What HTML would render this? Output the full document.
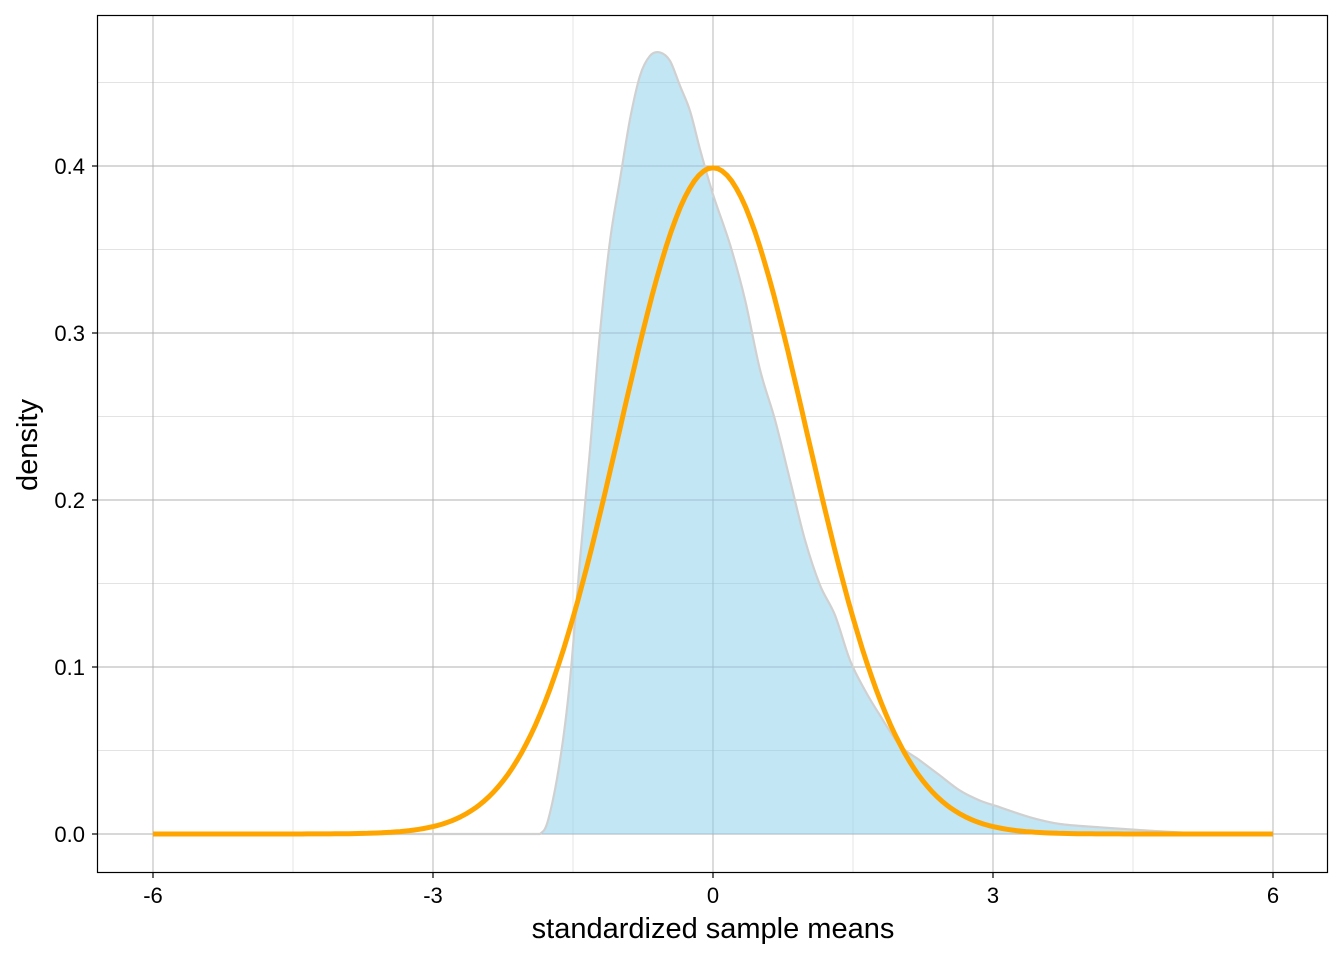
<!DOCTYPE html>
<html><head><meta charset="utf-8"><style>
html,body{margin:0;padding:0;background:#fff;}
svg{display:block;font-family:"Liberation Sans",sans-serif;}
</style></head><body>
<svg id="chart" width="1344" height="960">
<rect x="0" y="0" width="1344" height="960" fill="#fff"/>
<g id="grid"></g>
<g id="marks"></g>
<rect x="97.5" y="15.5" width="1230" height="857" fill="none" stroke="#000" stroke-width="1.2"/>
<g id="axes"></g>
<text x="713" y="938" font-size="29" text-anchor="middle">standardized sample means</text>
<text x="37" y="445" font-size="29" text-anchor="middle" transform="rotate(-90 37 445)">density</text>
</svg>
<script>
const xTicks = [-6, -3, 0, 3, 6];
const xMinor = [-4.5, -1.5, 1.5, 4.5];
const yTicks = [0, 0.1, 0.2, 0.3, 0.4];
const yMinor = [0.05, 0.15, 0.25, 0.35, 0.45];
const yTickLabels = ["0.0", "0.1", "0.2", "0.3", "0.4"];
const densX = [-6, -5, -4, -3, -2.4, -2.05, -1.9, -1.854, -1.768, -1.639, -1.532, -1.425, -1.318, -1.211, -1.104, -0.996, -0.889, -0.782, -0.675, -0.568, -0.461, -0.354, -0.246, -0.139, 0, 0.182, 0.343, 0.504, 0.664, 0.825, 0.986, 1.146, 1.307, 1.468, 1.629, 1.789, 2.004, 2.218, 2.432, 2.646, 2.861, 3.075, 3.396, 3.718, 4.146, 4.682, 5.218, 6];
const densY = [0, 0, 0, 0, 0, 0, 0, 0, 0.008, 0.044, 0.092, 0.164, 0.23, 0.30, 0.355, 0.392, 0.428, 0.454, 0.466, 0.468, 0.463, 0.448, 0.433, 0.41, 0.383, 0.353, 0.32, 0.278, 0.248, 0.212, 0.176, 0.149, 0.131, 0.104, 0.086, 0.071, 0.053, 0.044, 0.035, 0.026, 0.020, 0.016, 0.010, 0.006, 0.004, 0.002, 0.0005, 0];
const normMean = [0];
const normSd = [1];

const NS = "http://www.w3.org/2000/svg";
const sx = v => 713 + v * (1120 / 12);
const sy = v => 834 - v * 1670;
function mk(tag, attrs, parent) {
  const e = document.createElementNS(NS, tag);
  for (const k in attrs) e.setAttribute(k, attrs[k]);
  parent.appendChild(e);
  return e;
}
const grid = document.getElementById('grid');
const marks = document.getElementById('marks');
const axes = document.getElementById('axes');

xMinor.forEach(v => {
  const l = mk('line', {x1: sx(v), x2: sx(v), y1: 16, y2: 872, stroke: '#dadada', 'stroke-width': 0.7}, grid);
  
  
});
yMinor.forEach(v => {
  const l = mk('line', {x1: 98, x2: 1328, y1: sy(v), y2: sy(v), stroke: '#dadada', 'stroke-width': 0.7}, grid);
  
  
});
xTicks.forEach(v => {
  const l = mk('line', {x1: sx(v), x2: sx(v), y1: 16, y2: 872, stroke: '#b0b0b0', 'stroke-width': 0.9}, grid);
  
  
  const t = mk('line', {x1: sx(v), x2: sx(v), y1: 872, y2: 878, stroke: '#000', 'stroke-width': 1.2}, axes);
  
  
  const tx = mk('text', {x: sx(v), y: 903, 'font-size': 22, 'text-anchor': 'middle'}, axes);
  tx.textContent = String(v);
  
  
});
yTicks.forEach((v, i) => {
  const l = mk('line', {x1: 98, x2: 1328, y1: sy(v), y2: sy(v), stroke: '#b0b0b0', 'stroke-width': 0.9}, grid);
  
  
  const t = mk('line', {x1: 92, x2: 98, y1: sy(v), y2: sy(v), stroke: '#000', 'stroke-width': 1.2}, axes);
  
  
  const tx = mk('text', {x: 85, y: sy(v) + 8, 'font-size': 22, 'text-anchor': 'end'}, axes);
  tx.textContent = yTickLabels[i];
  
  
});

// smooth path via Catmull-Rom
const pts = densX.map((x, i) => [sx(x), sy(densY[i])]);
let d = 'M' + pts[0][0].toFixed(1) + ',' + pts[0][1].toFixed(1);
for (let i = 0; i < pts.length - 1; i++) {
  const p0 = pts[Math.max(0, i - 1)], p1 = pts[i], p2 = pts[i + 1], p3 = pts[Math.min(pts.length - 1, i + 2)];
  let c1x = p1[0] + (p2[0] - p0[0]) / 6, c1y = p1[1] + (p2[1] - p0[1]) / 6;
  let c2x = p2[0] - (p3[0] - p1[0]) / 6, c2y = p2[1] - (p3[1] - p1[1]) / 6;
  c1x = Math.min(Math.max(c1x, p1[0]), p2[0]);
  c2x = Math.min(Math.max(c2x, p1[0]), p2[0]);
  d += 'C' + c1x.toFixed(1) + ',' + Math.min(834, c1y).toFixed(1) + ' ' + c2x.toFixed(1) + ',' + Math.min(834, c2y).toFixed(1) + ' ' + p2[0].toFixed(1) + ',' + p2[1].toFixed(1);
}
const area = mk('path', {d: d + 'Z', fill: '#87ceeb', 'fill-opacity': 0.5, stroke: 'none'}, marks);


const outline = mk('path', {d: d, fill: 'none', stroke: '#d0d0d0', 'stroke-width': 2.2, 'stroke-linejoin': 'round'}, marks);



let nd = '';
for (let i = 0; i <= 240; i++) {
  const x = -6 + i * 12 / 240;
  const z = (x - normMean[0]) / normSd[0];
  const y = Math.exp(-0.5 * z * z) / (normSd[0] * Math.sqrt(2 * Math.PI));
  nd += (i ? 'L' : 'M') + sx(x).toFixed(1) + ',' + sy(y).toFixed(1);
}
const norm = mk('path', {d: nd, fill: 'none', stroke: '#ffa500', 'stroke-width': 5, 'stroke-linejoin': 'round'}, marks);


</script>
</body></html>
